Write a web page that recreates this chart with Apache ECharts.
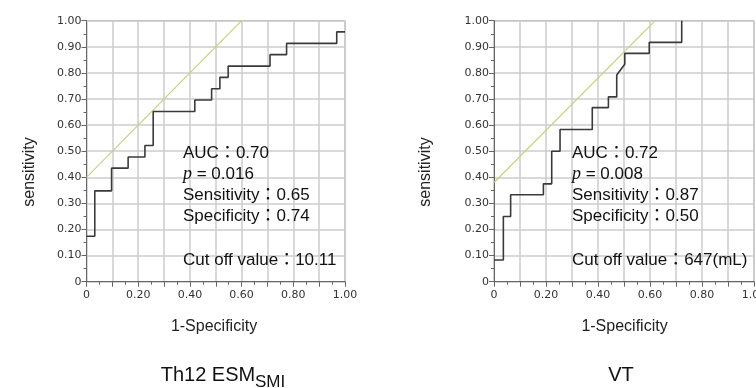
<!DOCTYPE html>
<html>
<head>
<meta charset="utf-8">
<script src="https://cdn.jsdelivr.net/npm/echarts@6/dist/echarts.min.js"></script>
<style>html,body{margin:0;padding:0;background:#fff}#c{width:756px;height:388px}</style>
</head>
<body>
<div id="c"></div>
<script>
// ---- data ----
const xTickLabels = ['0', '', '0.20', '', '0.40', '', '0.60', '', '0.80', '', '1.00'];
const yTickLabels = ['0', '0.10', '0.20', '0.30', '0.40', '0.50', '0.60', '0.70', '0.80', '0.90', '1.00'];

// Th12 ESM_SMI ROC curve vertices (1-specificity, sensitivity)
const fprA = [0, 0.032, 0.032, 0.097, 0.097, 0.161, 0.161, 0.226, 0.226, 0.258, 0.258, 0.419, 0.419, 0.484, 0.484, 0.516, 0.516, 0.548, 0.548, 0.710, 0.710, 0.774, 0.774, 0.968, 0.968, 1.0];
const tprA = [0.174, 0.174, 0.348, 0.348, 0.435, 0.435, 0.478, 0.478, 0.522, 0.522, 0.652, 0.652, 0.696, 0.696, 0.739, 0.739, 0.783, 0.783, 0.826, 0.826, 0.870, 0.870, 0.913, 0.913, 0.957, 0.957];
const refA_x = [0, 0.6];
const refA_y = [0.4, 1.0];

// VT ROC curve vertices
const fprB = [0, 0.036, 0.036, 0.064, 0.064, 0.190, 0.190, 0.222, 0.222, 0.254, 0.254, 0.378, 0.378, 0.440, 0.440, 0.472, 0.472, 0.503, 0.503, 0.597, 0.597, 0.722, 0.722];
const tprB = [0.083, 0.083, 0.250, 0.250, 0.333, 0.333, 0.375, 0.375, 0.500, 0.500, 0.583, 0.583, 0.667, 0.667, 0.708, 0.708, 0.792, 0.833, 0.875, 0.875, 0.917, 0.917, 1.0];
const refB_x = [0, 0.62];
const refB_y = [0.38, 1.0];

const statsA = ['AUC：0.70', 'p', '= 0.016', 'Sensitivity：0.65', 'Specificity：0.74', 'Cut off value：10.11'];
const statsB = ['AUC：0.72', 'p', '= 0.008', 'Sensitivity：0.87', 'Specificity：0.50', 'Cut off value：647(mL)'];
const titleA = ['Th12 ESM', 'SMI'];
const titleB = 'VT';
const xName = '1-Specificity';
const yName = 'sensitivity';

// ---- chart ----
const zip = (a, b) => a.map((v, i) => [v, b[i]]);
const SANS = "'Liberation Sans', Arial, 'Noto Sans CJK JP', sans-serif";
const TICKF = "'DejaVu Sans', Verdana, sans-serif";

function xAxis(gi) {
  return {
    type: 'value', gridIndex: gi, min: 0, max: 1, interval: 0.1,
    axisLine: { show: true, onZero: false, lineStyle: { color: '#666', width: 1 } },
    axisTick: { show: true, length: 5, lineStyle: { color: '#666' } },
    minorTick: { show: true, splitNumber: 2, length: 3, lineStyle: { color: '#666' } },
    splitLine: { show: true, lineStyle: { color: '#cdcdcd', width: 1.5 } },
    axisLabel: { margin: 8, fontFamily: TICKF, fontSize: 11, color: '#333', hideOverlap: false,
      formatter: v => xTickLabels[Math.round(v * 10)] },
  };
}
function yAxis(gi) {
  return {
    type: 'value', gridIndex: gi, min: 0, max: 1, interval: 0.1,
    axisLine: { show: true, onZero: false, lineStyle: { color: '#666', width: 1 } },
    axisTick: { show: true, length: 5, lineStyle: { color: '#666' } },
    minorTick: { show: true, splitNumber: 2, length: 3, lineStyle: { color: '#666' } },
    splitLine: { show: true, lineStyle: { color: '#cdcdcd', width: 1.5 } },
    axisLabel: { margin: 5, fontFamily: TICKF, fontSize: 11, color: '#333',
      formatter: v => yTickLabels[Math.round(v * 10)] },
  };
}
function rocSeries(gi, xs, ys) {
  return { type: 'line', xAxisIndex: gi, yAxisIndex: gi, data: zip(xs, ys), symbol: 'none',
    lineStyle: { color: '#3a3a3a', width: 1.6 }, z: 5, animation: false };
}
function refSeries(gi, xs, ys) {
  return { type: 'line', xAxisIndex: gi, yAxisIndex: gi, data: zip(xs, ys), symbol: 'none',
    lineStyle: { color: '#c8cf85', width: 1.2 }, z: 4, animation: false };
}
function statsText(x, s) {
  const ys = [153.3, 174, 195, 216.7, 260.7];
  const st = { fontFamily: SANS, fontSize: 17, fill: '#111', verticalAlign: 'middle', align: 'left' };
  return [
    { type: 'text', x: x, y: ys[0], z: 20, style: Object.assign({ text: s[0] }, st) },
    { type: 'text', x: x, y: ys[1], z: 20, style: Object.assign({}, st, { text: '{i|' + s[1] + '} ' + s[2],
        rich: { i: { fontFamily: "'Liberation Serif', 'Times New Roman', serif", fontStyle: 'italic', fontSize: 18, fill: '#111' } } }) },
    { type: 'text', x: x, y: ys[2], z: 20, style: Object.assign({ text: s[3] }, st) },
    { type: 'text', x: x, y: ys[3], z: 20, style: Object.assign({ text: s[4] }, st) },
    { type: 'text', x: x, y: ys[4], z: 20, style: Object.assign({ text: s[5] }, st) },
  ];
}

const chart = echarts.init(document.getElementById('c'), null, { renderer: 'canvas' });
chart.setOption({
  animation: false,
  backgroundColor: '#fff',
  grid: [
    { left: 86.5, top: 20.7, width: 258.5, height: 261, show: true, borderColor: '#999', borderWidth: 1, backgroundColor: 'transparent', containLabel: false, outerBoundsMode: 'none' },
    { left: 494, top: 20.7, width: 260, height: 261, show: true, borderColor: '#999', borderWidth: 1, backgroundColor: 'transparent', containLabel: false, outerBoundsMode: 'none' },
  ],
  xAxis: [xAxis(0), xAxis(1)],
  yAxis: [yAxis(0), yAxis(1)],
  series: [
    refSeries(0, refA_x, refA_y), rocSeries(0, fprA, tprA),
    refSeries(1, refB_x, refB_y), rocSeries(1, fprB, tprB),
  ],
  graphic: [].concat(
    statsText(183, statsA),
    statsText(572, statsB),
    [
      { type: 'text', x: 29.7, y: 172, rotation: Math.PI / 2, style: { text: yName, fontFamily: SANS, fontSize: 16, fill: '#222', align: 'center', verticalAlign: 'middle' } },
      { type: 'text', x: 426, y: 172, rotation: Math.PI / 2, style: { text: yName, fontFamily: SANS, fontSize: 16, fill: '#222', align: 'center', verticalAlign: 'middle' } },
      { type: 'text', x: 214, y: 326.3, style: { text: xName, fontFamily: SANS, fontSize: 16, fill: '#222', align: 'center', verticalAlign: 'middle' } },
      { type: 'text', x: 624.5, y: 326.3, style: { text: xName, fontFamily: SANS, fontSize: 16, fill: '#222', align: 'center', verticalAlign: 'middle' } },
      { type: 'text', x: 160.7, y: 375.3, style: { text: titleA[0], fontFamily: SANS, fontSize: 20, fill: '#111', align: 'left', verticalAlign: 'middle' } },
      { type: 'text', x: 255, y: 382, style: { text: titleA[1], fontFamily: SANS, fontSize: 17, fill: '#111', align: 'left', verticalAlign: 'middle' } },
      { type: 'text', x: 621, y: 375.3, style: { text: titleB, fontFamily: SANS, fontSize: 20, fill: '#111', align: 'center', verticalAlign: 'middle' } },
    ]
  ),
});
</script>
</body>
</html>
